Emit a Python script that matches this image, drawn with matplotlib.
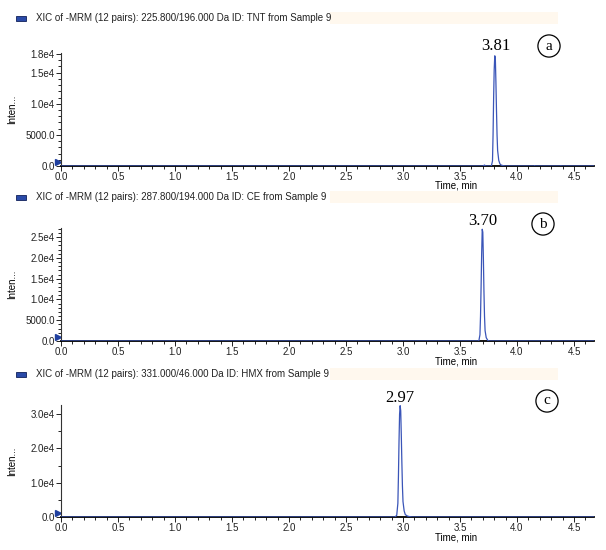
import matplotlib.pyplot as plt
from matplotlib.patches import Rectangle
from matplotlib.ticker import MultipleLocator, FixedLocator
import numpy as np

W, H = 606, 550

# chromatogram traces (time, min / intensity)
t_tnt = [0.0, 3.700, 3.715, 3.725, 3.740, 3.775, 3.785, 3.790, 3.795, 3.800, 3.805,
         3.810, 3.815, 3.820, 3.825, 3.830, 3.840, 3.850, 3.860, 3.880, 3.900,
         4.150, 4.155, 4.160, 4.380, 4.385, 4.390, 4.68]
i_tnt = [0, 0, 150, 0, 0, 0, 800, 5000, 11000, 15500, 17700,
         17300, 13500, 9000, 5000, 2500, 900, 350, 150, 50, 0,
         0, 60, 0, 0, 50, 0, 0]

t_ce = [0.0, 3.650, 3.665, 3.675, 3.680, 3.685, 3.690, 3.695, 3.700, 3.705,
        3.710, 3.715, 3.720, 3.730, 3.745, 3.760, 4.68]
i_ce = [0, 0, 0, 1500, 6000, 13000, 21000, 26900, 26200, 20000,
        12000, 6000, 2500, 800, 100, 0, 0]

t_hmx = [0.0, 2.930, 2.945, 2.955, 2.960, 2.965, 2.970, 2.975, 2.980, 2.985,
         2.990, 2.995, 3.000, 3.010, 3.020, 3.040, 3.060, 3.080, 4.68]
i_hmx = [0, 0, 500, 4000, 12000, 22000, 30000, 32500, 31000, 24000,
         16000, 9000, 4500, 1800, 700, 250, 100, 0, 0]

headers = ["XIC of -MRM (12 pairs): 225.800/196.000 Da ID: TNT from Sample 9",
           "XIC of -MRM (12 pairs): 287.800/194.000 Da ID: CE from Sample 9",
           "XIC of -MRM (12 pairs): 331.000/46.000 Da ID: HMX from Sample 9"]
peak_labels = ["3.81", "3.70", "2.97"]
peak_times = [3.81, 3.70, 2.97]
panel_tags = ["a", "b", "c"]

y_ticks = [[0, 5000, 10000, 15000, 18000],
           [0, 5000, 10000, 15000, 20000, 25000],
           [0, 10000, 20000, 30000]]
y_ticklabels = [["0.0", "5000.0", "1.0e4", "1.5e4", "1.8e4"],
                ["0.0", "5000.0", "1.0e4", "1.5e4", "2.0e4", "2.5e4"],
                ["0.0", "1.0e4", "2.0e4", "3.0e4"]]
y_minor = [1000, 1000, 5000]
y_top = [18150, 27200, 32700]

traces = [(t_tnt, i_tnt), (t_ce, i_ce), (t_hmx, i_hmx)]

# layout in pixels: (axes top, axes bottom, header y)
rows = [(53, 166, 18), (228, 341, 197), (405, 517, 374)]
ax_left, ax_right = 61, 594

plt.rcParams['font.family'] = ['Liberation Sans', 'DejaVu Sans']
fig = plt.figure(figsize=(W / 100, H / 100), dpi=100)

def fx(x):
    return x / W

def fy(y):
    return 1 - y / H

for k in range(3):
    top, bot, hy = rows[k]
    ax = fig.add_axes([fx(ax_left), fy(bot), fx(ax_right - ax_left), (bot - top) / H])
    t, inten = traces[k]
    ax.plot(t, inten, color='#3a55b8', lw=0.9, zorder=3)
    ax.set_xlim(0, (ax_right - ax_left) / 114.0)
    ax.set_ylim(0, y_top[k])

    for s in ['top', 'right']:
        ax.spines[s].set_visible(False)
    ax.spines['bottom'].set_linewidth(1.3)
    ax.spines['left'].set_linewidth(0.8)
    ax.spines['left'].set_color('#333333')

    ax.xaxis.set_major_locator(FixedLocator(np.arange(0, 4.51, 0.5)))
    ax.xaxis.set_major_formatter(plt.FuncFormatter(lambda v, p: f"{v:.1f}"))
    ax.xaxis.set_minor_locator(MultipleLocator(0.1))
    ax.set_yticks(y_ticks[k])
    ax.set_yticklabels(y_ticklabels[k])
    ax.yaxis.set_minor_locator(MultipleLocator(y_minor[k]))
    ax.tick_params(which='major', length=3.5, width=0.7, labelsize=7, pad=1,
                   colors='#222222')
    ax.tick_params(which='minor', length=2, width=0.6)

    ax.set_xlabel("Time, min", fontsize=7)
    ax.xaxis.set_label_coords((456 - ax_left) / (ax_right - ax_left),
                              -15.0 / (bot - top))
    ax.set_ylabel("Inten...", fontsize=7)
    ax.yaxis.set_label_coords(-0.083, 0.5)

    # small start marker at the origin
    ax.plot([-0.006], [0.035], marker='>', color='#1f3f9f', ms=5,
            transform=ax.transAxes, clip_on=False)

    # peak retention time label
    ax.text(peak_times[k], 0.99, peak_labels[k], transform=ax.get_xaxis_transform(),
            ha='center', va='bottom', fontsize=12, family='Liberation Serif')

    # header bar
    fig.patches.append(Rectangle((fx(330), fy(hy + 6)), fx(228), 12 / H,
                                 transform=fig.transFigure, fc='#fff8ee', ec='none'))
    fig.patches.append(Rectangle((fx(16), fy(hy + 3)), fx(10), 5 / H,
                                 transform=fig.transFigure, fc='#2a4aa8', ec='#10205a',
                                 lw=0.6))
    fig.text(fx(36), fy(hy), headers[k], fontsize=7, va='center', ha='left',
             color='#222222')

tag_pos = [(549, 46), (543, 224), (547, 401)]
for (x, y), tag in zip(tag_pos, panel_tags):
    fig.text(fx(x), fy(y), tag, fontsize=11, family='Liberation Serif',
             ha='center', va='center',
             bbox=dict(boxstyle='circle,pad=0.3', fc='white', ec='black', lw=0.9))

fig.savefig("out.png", dpi=100)
